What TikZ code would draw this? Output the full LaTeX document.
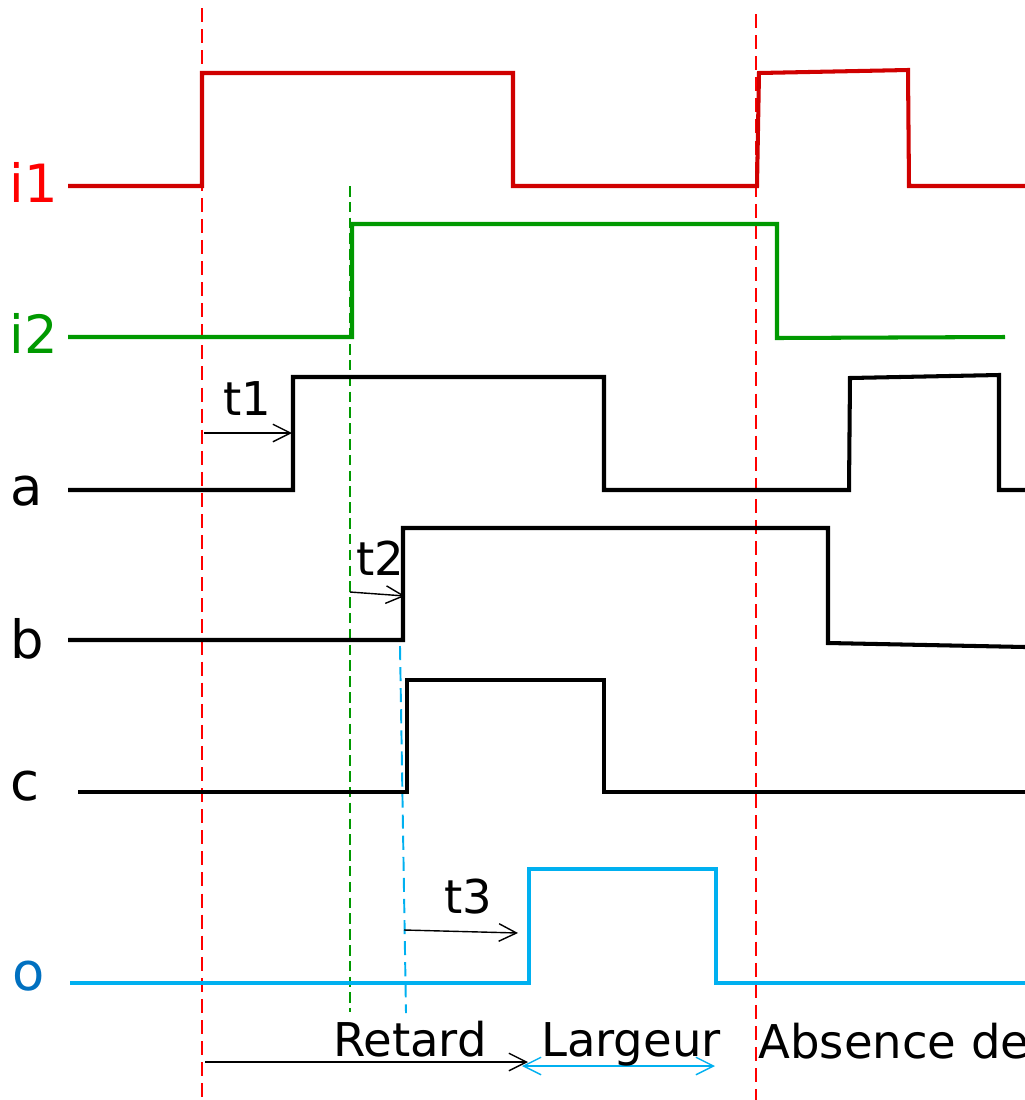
\documentclass[tikz,border=0pt]{standalone}
\usepackage{fontspec}
\setmainfont{DejaVu Sans}
\usepackage{xcolor}
\usetikzlibrary{arrows.meta}

\definecolor{redline}{HTML}{D00000}
\definecolor{redtxt}{HTML}{FF0000}
\definecolor{greenline}{HTML}{009900}
\definecolor{blueline}{HTML}{00B0F0}
\definecolor{bluetxt}{HTML}{0070C0}

\begin{document}
\begin{tikzpicture}[
        x=0.02cm, y=-0.02cm,
        wave/.style={line width=2.3pt},
        guide/.style={line width=1.1pt, dash pattern=on 8pt off 4pt},
        delay/.style={line width=0.8pt, -{Straight Barb[length=10pt, width=10pt]}},
        signame/.style={font=\fontsize{30}{36}\selectfont, inner sep=0pt, anchor=base},
        lbl/.style={font=\fontsize{26.5}{32}\selectfont, inner sep=0pt, anchor=base}
    ]
    \useasboundingbox (0,0) rectangle (1025,1100);
    \clip (0,0) rectangle (1025,1100);

    % Time markers
    \draw[guide, redtxt] (202,8) -- (202,1100);
    \draw[guide, redtxt] (756,14) -- (756,1100);
    \draw[guide, greenline, dash pattern=on 6pt off 3pt] (350,186) -- (350,1012);
    \draw[guide, blueline] (400,646) -- (406,1013);

    % Signal names
    \node[signame, redtxt] (i1) at (34,202) {i1};
    \node[signame, greenline] (i2) at (34,353) {i2};
    \node[signame] (sa) at (27,505) {a};
    \node[signame] (sb) at (27,658) {b};
    \node[signame] (sc) at (25,800) {c};
    \node[signame, bluetxt] (so) at (29,990) {o};

    % Waveforms
    \draw[wave, redline] (68,186) -- (202,186) -- (202,73) -- (513,73) -- (513,186)
        -- (757,186) -- (759,73) -- (908,70) -- (909,186) -- (1025,186);
    \draw[wave, greenline] (68,337) -- (352,337) -- (352,224) -- (777,224) -- (777,338)
        -- (1005,337);
    \draw[wave] (68,490) -- (293,490) -- (293,377) -- (604,377) -- (604,490)
        -- (849,490) -- (850,378) -- (999,375) -- (999,490) -- (1025,490);
    \draw[wave] (68,640) -- (403,640) -- (403,528) -- (828,528) -- (828,643)
        -- (1025,647);
    \draw[wave] (78,792) -- (407,792) -- (407,680) -- (604,680) -- (604,792)
        -- (1025,792);
    \draw[wave, blueline] (70,983) -- (529,983) -- (529,869) -- (716,869) -- (716,983)
        -- (1025,983);

    % Delays
    \coordinate (t1s) at (204,433);
    \coordinate (t1e) at (292,433);
    \coordinate (t2s) at (350,592);
    \coordinate (t2e) at (405,596);
    \coordinate (t3s) at (404,930);
    \coordinate (t3e) at (518,933);
    \draw[delay] (t1s) -- (t1e);
    \draw[delay] (t2s) -- (t2e);
    \draw[delay] (t3s) -- (t3e);
    \node[lbl] (t1) at (247,415) {t1};
    \node[lbl] (t2) at (380,575) {t2};
    \node[lbl] (t3) at (468,913) {t3};

    % Pulse measures
    \coordinate (rs) at (205,1062);
    \coordinate (re) at (528,1062);
    \coordinate (ls) at (522,1066);
    \coordinate (le) at (715,1066);
    \draw[delay] (rs) -- (re);
    \draw[delay, blueline, {Straight Barb[length=10pt, width=10pt]}-{Straight Barb[length=10pt, width=10pt]}] (ls) -- (le);
    \node[lbl] (retard) at (410,1056) {Retard};
    \node[lbl] (largeur) at (631,1056) {Largeur};
    \node[lbl, anchor=base west] (absence) at (758,1058) {Absence de};

\end{tikzpicture}
\end{document}
